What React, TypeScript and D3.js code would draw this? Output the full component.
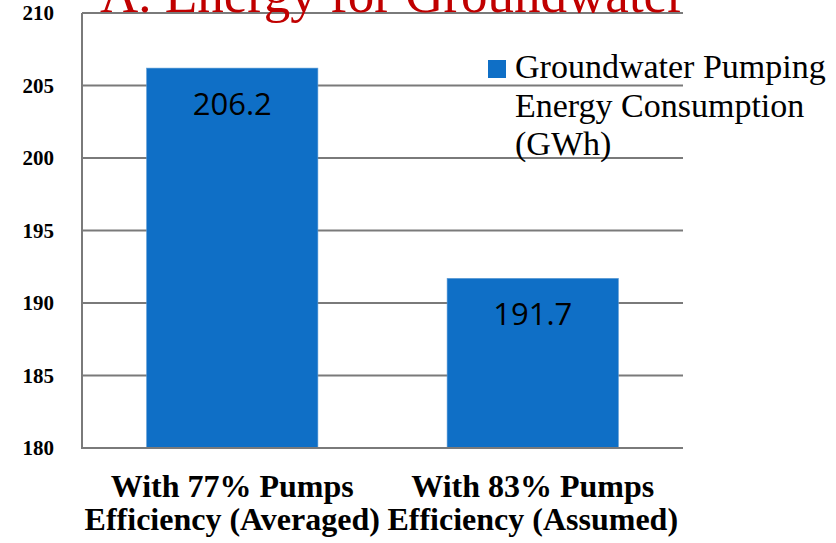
import React from "react";
import * as d3 from "d3";

// Scenario data
const categories: string[][] = [
  ["With 77% Pumps", "Efficiency (Averaged)"],
  ["With 83% Pumps", "Efficiency (Assumed)"],
];
const energyGWh: number[] = [206.2, 191.7];
const yTicks: number[] = [180, 185, 190, 195, 200, 205, 210];
const legendLines: string[] = ["Groundwater Pumping", "Energy Consumption", "(GWh)"];
const titleText = "A. Energy for Groundwater";

const W = 836;
const H = 543;
const plot = { left: 82, right: 683, top: 13, bottom: 448 };
const BAR = "#0F6FC6";
const GRID = "#7a7a7a";

export default function App() {
  const x = d3
    .scaleBand<number>()
    .domain(d3.range(categories.length))
    .range([plot.left, plot.right])
    .paddingInner(0.43)
    .paddingOuter(0.215);
  const y = d3.scaleLinear().domain([180, 210]).range([plot.bottom, plot.top]);

  return (
    <svg
      width={W}
      height={H}
      style={{ position: "absolute", left: 0, top: 0, background: "#fff" }}
    >
      {/* horizontal gridlines */}
      {yTicks.map((t) => (
        <line
          key={t}
          x1={plot.left}
          x2={plot.right}
          y1={y(t)}
          y2={y(t)}
          stroke={GRID}
          strokeWidth={2}
        />
      ))}

      {/* title, running off the top edge */}
      <text
        x={100}
        y={12}
        fontFamily="'Liberation Serif', serif"
        fontSize={53}
        fill="#C00000"
      >
        {titleText}
      </text>

      {/* bars */}
      {energyGWh.map((v, i) => (
        <g key={i}>
          <rect
            x={x(i)}
            y={y(v)}
            width={x.bandwidth()}
            height={y(180) - y(v)}
            fill={BAR}
            stroke="#5b9bd5"
            strokeWidth={0.6}
          />
          <text
            x={(x(i) as number) + x.bandwidth() / 2}
            y={y(v) + 47}
            textAnchor="middle"
            fontFamily="'Open Sans', sans-serif"
            fontSize={31}
            fill="#000"
          >
            {v.toFixed(1)}
          </text>
        </g>
      ))}

      {/* axes */}
      <line x1={plot.left} x2={plot.left} y1={plot.top} y2={plot.bottom} stroke={GRID} strokeWidth={2} />
      <line x1={plot.left - 1} x2={plot.right} y1={plot.bottom} y2={plot.bottom} stroke={GRID} strokeWidth={2} />

      {/* y tick labels */}
      {yTicks.map((t) => (
        <text
          key={t}
          x={54}
          y={y(t) + 7}
          textAnchor="end"
          fontFamily="'Liberation Serif', serif"
          fontWeight={600}
          fontSize={21}
          fill="#000"
        >
          {t}
        </text>
      ))}

      {/* category labels */}
      {categories.map((lines, i) => (
        <text
          key={i}
          textAnchor="middle"
          fontFamily="'Liberation Serif', serif"
          fontWeight="bold"
          fontSize={32}
          fill="#000"
        >
          {lines.map((l, j) => (
            <tspan key={j} x={(x(i) as number) + x.bandwidth() / 2} y={497 + j * 33}>
              {l}
            </tspan>
          ))}
        </text>
      ))}

      {/* legend */}
      <rect x={488} y={60} width={18} height={18} fill={BAR} />
      <text fontFamily="'Liberation Serif', serif" fontSize={34} fill="#000">
        {legendLines.map((l, j) => (
          <tspan key={j} x={515} y={78 + j * 38.5}>
            {l}
          </tspan>
        ))}
      </text>
    </svg>
  );
}
